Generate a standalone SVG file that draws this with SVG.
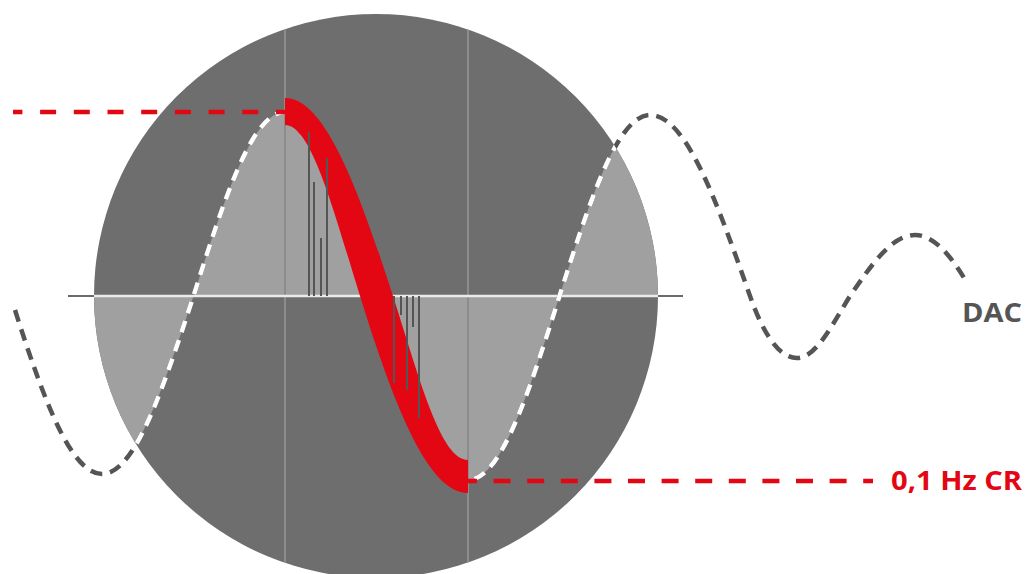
<svg xmlns="http://www.w3.org/2000/svg" width="1025" height="574" viewBox="0 0 1025 574">
  <style>
    .wave { fill: none; stroke-width: 4.5; stroke-dasharray: 12 8; }
    .dark { stroke: #555555; }
    .white { stroke: #ffffff; }
    .grid { stroke: #8c8c8c; stroke-width: 2; }
    .sample { stroke: #555555; stroke-width: 2; }
    .reddash { stroke: #e30613; stroke-width: 4.5; stroke-dasharray: 16 17.7; fill: none; }
    .lbl { font-family: "Open Sans", "Liberation Sans", sans-serif; font-weight: bold; font-size: 26px; }
  </style>
  <defs>
    <clipPath id="circ">
      <circle cx="376" cy="296" r="282"/>
    </clipPath>
    <path id="wavePath" d="M15,310 C43,398 71,474 102,474 C134.9,474 162.9,389 193.5,296 C224.1,199.4 252.1,112 285,112 C317.9,112 345.9,199.4 376.5,296 C407.1,392.6 435.1,480 468,480 C500.9,480 528.9,392.6 559.5,296 C589.8,201 617.4,115 650,115 C686,115 716.6,201 750,296 C764,336 780,358 797,358 C816,358 832,325 850,296 C872,264 892,235 915,235 C935,235 952,258 966,281"/>
  </defs>

  <g id="scope">
    <circle cx="376" cy="296" r="282" fill="#6e6e6e"/>
    <path clip-path="url(#circ)" fill="#a0a0a0" d="M15,296 L15,310 C43,398 71,474 102,474 C134.9,474 162.9,389 193.5,296 C224.1,199.4 252.1,112 285,112 C317.9,112 345.9,199.4 376.5,296 C407.1,392.6 435.1,480 468,480 C500.9,480 528.9,392.6 559.5,296 C589.8,201 617.4,115 650,115 C686,115 716.6,201 750,296 Z"/>
    <g clip-path="url(#circ)">
      <line class="grid" x1="285" y1="0" x2="285" y2="574"/>
      <line class="grid" x1="468" y1="0" x2="468" y2="574"/>
    </g>
    <line x1="68" y1="296" x2="683" y2="296" stroke="#6a6a6a" stroke-width="2"/>
    <line x1="68" y1="296" x2="683" y2="296" stroke="#ebebeb" stroke-width="2.5" clip-path="url(#circ)"/>
  </g>

  <g id="connectors">
    <use href="#wavePath" class="wave dark"/>
    <use href="#wavePath" class="wave white" clip-path="url(#circ)"/>
    <line class="reddash" x1="292" y1="112" x2="13" y2="112"/>
    <line class="reddash" x1="460" y1="481" x2="873" y2="481" style="stroke-dasharray:17 16.6"/>
  </g>

  <g id="cr-curve">
    <path fill="#e30613" d="M285,98 C324.5,98 357.5,186 393,296 C420.5,382 441,460 468,460 L468,493 C429,493 395.5,410 360,296 C334.5,214 312,125 285,125 Z"/>
  </g>

  <g id="samples">
    <line class="sample" x1="309" y1="132" x2="309" y2="296"/>
    <line class="sample" x1="314" y1="182" x2="314" y2="296"/>
    <line class="sample" x1="321" y1="238" x2="321" y2="296"/>
    <line class="sample" x1="327" y1="158" x2="327" y2="296"/>
    <line class="sample" x1="394" y1="296" x2="394" y2="383"/>
    <line class="sample" x1="401" y1="296" x2="401" y2="315"/>
    <line class="sample" x1="407" y1="296" x2="407" y2="390"/>
    <line class="sample" x1="413" y1="296" x2="413" y2="327"/>
    <line class="sample" x1="419" y1="296" x2="419" y2="418"/>
  </g>

  <g id="label-dac">
    <text class="lbl" x="962" y="322" textLength="60" lengthAdjust="spacingAndGlyphs" fill="#555555">DAC</text>
  </g>
  <g id="label-cr">
    <text class="lbl" x="891" y="490" textLength="131" lengthAdjust="spacingAndGlyphs" fill="#e30613">0,1 Hz CR</text>
  </g>
</svg>
